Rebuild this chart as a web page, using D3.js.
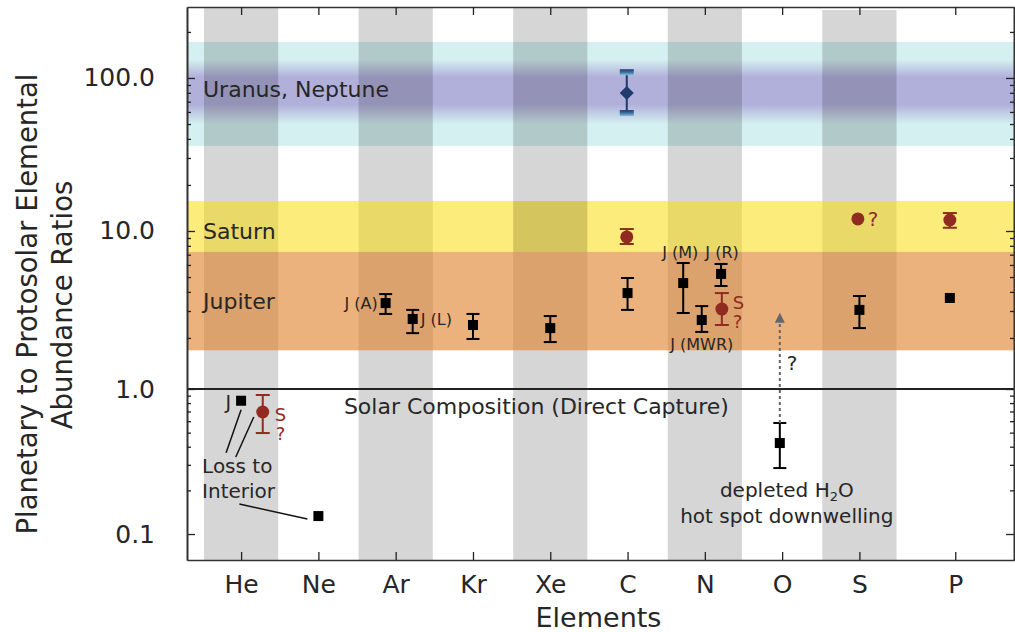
<!DOCTYPE html>
<html><head><meta charset="utf-8">
<script src="https://cdn.jsdelivr.net/npm/d3@7"></script>
<style>body{margin:0;background:#fff} svg{display:block} text{font-family:"DejaVu Sans",sans-serif;fill:#262626}</style>
</head><body><svg id="c" width="1015" height="632"></svg>
<script>
// ---------- data ----------
const categories = ["He","Ne","Ar","Kr","Xe","C","N","O","S","P"];
const categoryPos = [1,2,3,4,5,6,7,8,9,10.24];
const shadedElements = ["He","Ar","Xe","N","S"];
const shadedTop = [291,291,291,291,278];

const upperMajor = [10,100];
const upperMajorLabels = ["10.0","100.0"];
const upperMinor = [2,3,4,5,6,7,8,9,20,30,40,50,60,70,80,90,200];
const lowerMajor = [0.1,1];
const lowerMajorLabels = ["0.1","1.0"];
const lowerMinor = [0.2,0.3,0.4,0.5,0.6,0.7,0.8,0.9];

const bandNames = ["Uranus, Neptune","Saturn","Jupiter"];
const bandLow = [36,7.3,1.66];
const bandHigh = [172,15.7,7.3];
const bandLabelAt = [84,9.9,3.45];

// Jupiter
const jupX   = [1.0, 2.0, 2.87, 3.22, 4.0, 5.0, 6.0, 6.72, 6.96, 7.21, 7.97, 9.0, 10.17];
const jupVal = [0.83,0.133,3.38,2.66,2.43,2.32,3.93,4.57,2.62,5.24,0.424,3.05,3.65];
const jupLo  = [null,null,2.87,2.15,1.97,1.88,3.05,2.91,2.19,4.37,0.285,2.32,null];
const jupHi  = [null,null,3.87,3.05,2.87,2.78,4.93,6.18,3.23,6.09,0.583,3.76,null];
// Saturn
const satX   = [1.28, 5.99, 7.22, 8.98, 10.17];
const satVal = [0.694, 9.14, 3.09, 12.0, 11.8];
const satLo  = [0.497, 8.22, 2.43, null, 10.5];
const satHi  = [0.909, 10.3, 3.93, null, 13.1];
// Uranus, Neptune
const unX   = [5.99];
const unVal = [79.8];
const unLo  = [59];
const unHi  = [109];

// ---------- scales ----------
const L = 187, R = 1014, T = 7, B = 560;
const x = d3.scaleLinear().domain([0.3, 11]).range([L, R]);
const yUp = d3.scaleLog().domain([0.9276, 291]).range([389, T]);
const yLow = d3.scaleLog().domain([1, 0.0662]).range([389, B]);
const y = v => v >= 0.95 ? yUp(v) : yLow(v);
const halfW = 0.48;

const svg = d3.select("#c");
const defs = svg.append("defs");

const g1 = defs.append("linearGradient").attr("id","ung").attr("x1",0).attr("x2",0).attr("y1",0).attr("y2",1);
[[0,"#d4f0f0"],[0.17,"#d4f0f0"],[0.34,"#b1b0db"],[0.6,"#b1b0db"],[0.79,"#d4f0f0"],[1,"#d4f0f0"]]
  .forEach(s=>g1.append("stop").attr("offset",s[0]).attr("stop-color",s[1]));
const g2 = defs.append("linearGradient").attr("id","capg").attr("x1",0).attr("x2",0).attr("y1",0).attr("y2",1);
[[0,"#1f3a6b"],[0.5,"#3f6fa0"],[1,"#7cc4dc"]].forEach(s=>g2.append("stop").attr("offset",s[0]).attr("stop-color",s[1]));

// ---------- bands ----------
svg.append("rect").attr("x",L).attr("width",R-L)
  .attr("y",yUp(bandHigh[0])).attr("height",yUp(bandLow[0])-yUp(bandHigh[0]))
  .attr("fill","url(#ung)");

shadedElements.forEach((e,i)=>{
  const p = categoryPos[categories.indexOf(e)];
  svg.append("rect").attr("x",x(p-halfW)).attr("width",x(p+halfW)-x(p-halfW))
    .attr("y",yUp(shadedTop[i])).attr("height",B-yUp(shadedTop[i]))
    .attr("fill","#000").attr("fill-opacity",0.16);
});

const bandFill = [null,"rgb(249,220,17)","rgb(222,127,38)"];
const bandOp = [0,0.55,0.6];
[1,2].forEach(i=>{
  svg.append("rect").attr("x",L).attr("width",R-L)
    .attr("y",yUp(bandHigh[i])).attr("height",yUp(bandLow[i])-yUp(bandHigh[i]))
    .attr("fill",bandFill[i]).attr("fill-opacity",bandOp[i]);
});
{
  const p = categoryPos[categories.indexOf("Xe")];
  svg.append("rect").attr("x",x(p-halfW)).attr("width",x(p+halfW)-x(p-halfW))
    .attr("y",yUp(bandHigh[1])).attr("height",yUp(bandLow[1])-yUp(bandHigh[1]))
    .attr("fill","#000").attr("fill-opacity",0.09);
}

bandNames.forEach((n,i)=>{
  svg.append("text").attr("x",x(0.3)+16).attr("y",yUp(bandLabelAt[i])).attr("dy","0.35em")
    .attr("font-size",22).text(n);
});

svg.append("line").attr("x1",L).attr("x2",R).attr("y1",yLow(1)).attr("y2",yLow(1))
  .attr("stroke","#222").attr("stroke-width",2);
svg.append("text").attr("x",x(2.33)).attr("y",yLow(1)+25).attr("font-size",22)
  .text("Solar Composition (Direct Capture)");

// ---------- axes ----------
function styleAxis(g){
  g.selectAll("path.domain").attr("stroke","#333").attr("stroke-width",1.6);
  g.selectAll("line").attr("stroke","#222").attr("stroke-width",1.3);
  g.selectAll("text").attr("font-size",25).attr("fill","#262626").attr("font-family","DejaVu Sans");
}
styleAxis(svg.append("g").attr("transform",`translate(${L},0)`)
  .call(d3.axisLeft(yUp).tickValues(upperMajor).tickFormat((d,i)=>upperMajorLabels[i]).tickSizeInner(-8).tickSizeOuter(0).tickPadding(32)));
styleAxis(svg.append("g").attr("transform",`translate(${L},0)`)
  .call(d3.axisLeft(yUp).tickValues(upperMinor).tickFormat("").tickSizeInner(-4).tickSizeOuter(0)));
styleAxis(svg.append("g").attr("transform",`translate(${L},0)`)
  .call(d3.axisLeft(yLow).tickValues(lowerMajor).tickFormat((d,i)=>lowerMajorLabels[i]).tickSizeInner(-8).tickSizeOuter(0).tickPadding(32)));
styleAxis(svg.append("g").attr("transform",`translate(${L},0)`)
  .call(d3.axisLeft(yLow).tickValues(lowerMinor).tickFormat("").tickSizeInner(-4).tickSizeOuter(0)));
styleAxis(svg.append("g").attr("transform",`translate(${R},0)`)
  .call(d3.axisRight(yUp).tickValues(upperMajor).tickFormat("").tickSizeInner(-8).tickSizeOuter(0)));
styleAxis(svg.append("g").attr("transform",`translate(${R},0)`)
  .call(d3.axisRight(yUp).tickValues(upperMinor).tickFormat("").tickSizeInner(-4).tickSizeOuter(0)));
styleAxis(svg.append("g").attr("transform",`translate(${R},0)`)
  .call(d3.axisRight(yLow).tickValues(lowerMajor).tickFormat("").tickSizeInner(-8).tickSizeOuter(0)));
styleAxis(svg.append("g").attr("transform",`translate(${R},0)`)
  .call(d3.axisRight(yLow).tickValues(lowerMinor).tickFormat("").tickSizeInner(-4).tickSizeOuter(0)));
styleAxis(svg.append("g").attr("transform",`translate(0,${B})`)
  .call(d3.axisBottom(x).tickValues(categoryPos).tickFormat((d,i)=>categories[i]).tickSizeInner(-8).tickSizeOuter(0).tickPadding(15)));
styleAxis(svg.append("g").attr("transform",`translate(0,${T})`)
  .call(d3.axisTop(x).tickValues(categoryPos).tickFormat("").tickSizeInner(-8).tickSizeOuter(0)));

svg.append("text").attr("x",(L+R)/2-2).attr("y",627).attr("text-anchor","middle").attr("font-size",27).text("Elements");
svg.append("text").attr("transform","translate(37,304) rotate(-90)").attr("text-anchor","middle").attr("font-size",27.5)
  .text("Planetary to Protosolar Elemental");
svg.append("text").attr("transform","translate(72,305) rotate(-90)").attr("text-anchor","middle").attr("font-size",27.5)
  .text("Abundance Ratios");

// ---------- error bars & markers ----------
function errbar(xs, lo, hi, color, w){
  xs.forEach((xv,i)=>{
    if(lo[i]==null) return;
    const cx = x(xv), y1 = y(lo[i]), y2 = y(hi[i]);
    svg.append("line").attr("x1",cx).attr("x2",cx).attr("y1",y1).attr("y2",y2).attr("stroke",color).attr("stroke-width",2);
    [y1,y2].forEach(yy=>svg.append("line").attr("x1",cx-w/2).attr("x2",cx+w/2).attr("y1",yy).attr("y2",yy)
      .attr("stroke",color).attr("stroke-width",2));
  });
}
const red = "#922b1f";
errbar(jupX, jupLo, jupHi, "#000", 13);
errbar(satX, satLo, satHi, red, 14);

jupX.forEach((xv,i)=>{
  svg.append("rect").attr("x",x(xv)-5).attr("y",y(jupVal[i])-5).attr("width",10).attr("height",10).attr("fill","#000");
});
satX.forEach((xv,i)=>{
  svg.append("circle").attr("cx",x(xv)).attr("cy",y(satVal[i])).attr("r",6.5).attr("fill",red);
});
unX.forEach((xv,i)=>{
  const cx = x(xv);
  svg.append("line").attr("x1",cx).attr("x2",cx).attr("y1",y(unLo[i])).attr("y2",y(unHi[i])).attr("stroke","#1f3a6b").attr("stroke-width",2);
  [y(unHi[i]), y(unLo[i])].forEach(yy=>svg.append("rect").attr("x",cx-7).attr("y",yy-3).attr("width",14).attr("height",6).attr("fill","url(#capg)"));
  const cy = y(unVal[i]);
  svg.append("path").attr("d",`M${cx},${cy-7}L${cx+7},${cy}L${cx},${cy+7}L${cx-7},${cy}Z`).attr("fill","#1f3a6b");
});

// ---------- annotations ----------
function txt(xp, yp, s, opt={}){
  const t = svg.append("text").attr("x",xp).attr("y",yp).attr("font-size",opt.size||16)
    .attr("text-anchor",opt.anchor||"start").text(s);
  if(opt.fill) t.style("fill",opt.fill);
  return t;
}
txt(x(jupX[0])-10, y(jupVal[0])+8, "J", {size:19, anchor:"end"});
txt(x(satX[0])+12, 421, "S", {size:18, fill:red});
txt(x(satX[0])+13, 440, "?", {size:18, fill:red});
txt(x(jupX[0])-39, 473, "Loss to", {size:20});
txt(x(jupX[0])-39, 498, "Interior", {size:20});
const ann = [
  [x(jupX[0])-15, y(jupVal[0])+52, x(jupX[0]), y(jupVal[0])+9],
  [x(satX[0])-27, y(satVal[0])+45, x(satX[0])-9, y(satVal[0])+5],
  [x(jupX[1])-79, y(jupVal[1])-12, x(jupX[1])-11, y(jupVal[1])+3]
];
ann.forEach(a=>svg.append("line").attr("x1",a[0]).attr("y1",a[1]).attr("x2",a[2]).attr("y2",a[3]).attr("stroke","#111").attr("stroke-width",1.5));

txt(x(jupX[2])-8, y(jupVal[2])+6, "J (A)", {anchor:"end"});
txt(x(jupX[3])+8, y(jupVal[3])+6, "J (L)");
txt(x(jupX[7])-3, 258, "J (M)", {anchor:"middle"});
txt(x(jupX[9])+1, 258, "J (R)", {anchor:"middle"});
txt(x(jupX[8]), 350, "J (MWR)", {anchor:"middle"});
txt(x(satX[2])+11, 309, "S", {size:18, fill:red});
txt(x(satX[2])+11, 328, "?", {size:18, fill:red});
txt(x(satX[3])+10, y(satVal[3])+7, "?", {size:20, fill:red});

const ox = x(jupX[10]);
svg.append("line").attr("x1",ox).attr("x2",ox).attr("y1",y(jupHi[10])).attr("y2",yUp(2.55))
  .attr("stroke","#666").attr("stroke-width",2).attr("stroke-dasharray","3,3");
svg.append("path").attr("d",`M${ox},${yUp(2.55)-9}L${ox+5},${yUp(2.55)+1}L${ox-5},${yUp(2.55)+1}Z`).attr("fill","#666");
txt(ox+7, 370, "?", {size:20});
const dt = txt(ox+7, 497, "depleted H", {size:20, anchor:"middle"});
dt.append("tspan").attr("dy",4).attr("font-size",13).text("2");
dt.append("tspan").attr("dy",-4).text("O");
txt(ox+7, 523, "hot spot downwelling", {size:20, anchor:"middle"});
</script></body></html>
